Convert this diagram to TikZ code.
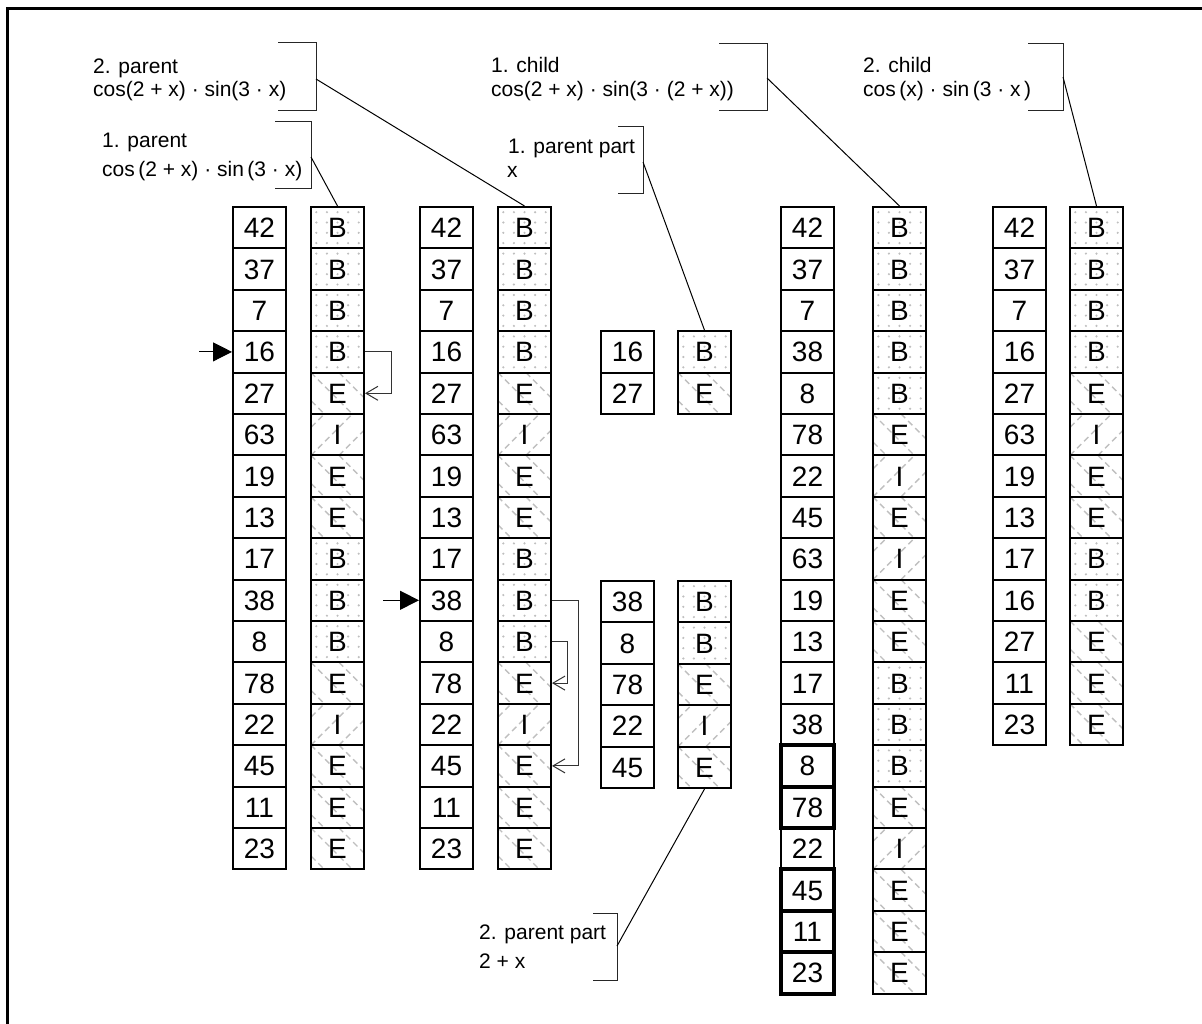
\documentclass[tikz,border=0pt]{standalone}
\usepackage{fontspec}
\setmainfont{Liberation Sans}
\usetikzlibrary{arrows.meta,calc}
\tikzset{
  x=1pt,y=1pt,
  cell/.style={draw=black, line width=2pt, minimum width=53pt, minimum height=41.4pt,
    inner sep=0pt, font=\fontsize{28}{28}\selectfont, text height=20pt, text depth=0pt},
  thickcell/.style={cell, line width=4pt},
  cellB/.style={cell, path picture={
      \foreach \cx in {0,...,4}{\foreach \cy in {0,...,3}{
        \fill[gray!50] ($(path picture bounding box.north west)+(5.3+10.6*\cx,-5.2-10.3*\cy)$) circle (1.2pt);}}}},
  cellE/.style={cell, path picture={
      \foreach \o in {-28,0,28}{
        \draw[gray!50,line width=1.4pt,dash pattern=on 6pt off 4pt]
          ($(path picture bounding box.north west)+(\o,0)$) -- ++(60,-60);}}},
  cellI/.style={cell, path picture={
      \foreach \o in {-28,0,28}{
        \draw[gray!50,line width=1.4pt,dash pattern=on 6pt off 4pt]
          ($(path picture bounding box.south west)+(\o,0)$) -- ++(60,60);}}},
  lbl/.style={anchor=base west, inner sep=0pt, font=\fontsize{21}{21}\selectfont},
  brk/.style={line width=1pt, draw=black!85},
  con/.style={line width=1pt, draw=black},
  farrow/.style={line width=1pt, -{Triangle[length=19pt,width=19pt]}},
  oarrow/.style={line width=1pt, draw=black!80, -{Straight Barb[length=12pt,width=14pt]}},
}
\newcommand\mkNumCol[4]{\foreach \v [count=\i from 0] in {#4}{%
  \node[cell] (#1-\i) at ({#2+26.5},{-(#3+41.4*\i+20.7)}) {\v};}}
\newcommand\mkLetCol[4]{\foreach \v [count=\i from 0] in {#4}{%
  \node[cell\v] (#1-\i) at ({#2+26.5},{-(#3+41.4*\i+20.7)}) {\v};}}
\begin{document}
\begin{tikzpicture}
\useasboundingbox (0,0) rectangle (1202,-1024);
% frame
\draw[line width=3pt] (7.5,-1040) -- (7.5,-8.3) -- (1215,-8.3);

% column 1 (1. parent)
\mkNumCol{c1n}{233}{207}{42,37,7,16,27,63,19,13,17,38,8,78,22,45,11,23}
\mkLetCol{c1l}{311}{207}{B,B,B,B,E,I,E,E,B,B,B,E,I,E,E,E}
% column 2 (2. parent)
\mkNumCol{c2n}{420}{207}{42,37,7,16,27,63,19,13,17,38,8,78,22,45,11,23}
\mkLetCol{c2l}{498}{207}{B,B,B,B,E,I,E,E,B,B,B,E,I,E,E,E}
% column 3 (parent parts)
\mkNumCol{c3n}{601}{331.2}{16,27}
\mkLetCol{c3l}{678}{331.2}{B,E}
\mkNumCol{c3m}{601}{581}{38,8,78,22,45}
\mkLetCol{c3k}{678}{581}{B,B,E,I,E}
% column 4 (1. child)
\foreach \v/\s [count=\i from 0] in {42/cell,37/cell,7/cell,38/cell,8/cell,78/cell,22/cell,45/cell,63/cell,19/cell,13/cell,17/cell,38/cell,8/thickcell,78/thickcell,22/cell,45/thickcell,11/thickcell,23/thickcell}{%
  \node[\s] (c4n-\i) at ({781+26.5},{-(207+41.4*\i+20.7)}) {\v};}
\mkLetCol{c4l}{873}{207}{B,B,B,B,B,E,I,E,I,E,E,B,B,B,E,I,E,E,E}
% column 5 (2. child)
\mkNumCol{c5n}{993}{207}{42,37,7,16,27,63,19,13,17,16,27,11,23}
\mkLetCol{c5l}{1070}{207}{B,B,B,B,E,I,E,E,B,B,E,E,E}

% labels
\node[lbl] (p2a) at (93,-74) {2. parent};
\node[lbl] (p2b) at (93,-97) {cos(2 + x) · sin(3 · x)};
\node[lbl] (p1a) at (102,-148) {1. parent};
\node[lbl] (p1b) at (102,-177) {cos\,(2 + x) · sin\,(3 · x)};
\node[lbl] (ch1a) at (491,-73) {1. child};
\node[lbl] (ch1b) at (491,-97) {cos(2 + x) · sin(3 · (2 + x))};
\node[lbl] (pp1a) at (508,-154) {1. parent part};
\node[lbl] (pp1b) at (507,-178) {x};
\node[lbl] (ch2a) at (863,-73) {2. child};
\node[lbl] (ch2b) at (863,-97) {cos\,(x) · sin\,(3 · x\,)};
\node[lbl] (pp2a) at (479,-939) {2. parent part};
\node[lbl] (pp2b) at (479,-968) {2 + x};

% brackets
\draw[brk] (278,-43) -- (316,-43) -- (316,-111) -- (278,-111);
\draw[brk] (275,-122) -- (311,-122) -- (311,-189) -- (275,-189);
\draw[brk] (719,-44) -- (767,-44) -- (767,-111) -- (719,-111);
\draw[brk] (618,-127) -- (643,-127) -- (643,-194) -- (618,-194);
\draw[brk] (1028,-44) -- (1063,-44) -- (1063,-111) -- (1028,-111);
\draw[brk] (593,-913) -- (617,-913) -- (617,-980) -- (593,-980);
\coordinate (b1) at (316,-79);
\coordinate (b2) at (311,-157);
\coordinate (b3) at (767,-78);
\coordinate (b4) at (643,-162);
\coordinate (b5) at (1063,-77);
\coordinate (b6) at (617,-946);
\draw[con] (b1) -- (c2l-0.north);
\draw[con] (b2) -- (c1l-0.north);
\draw[con] (b3) -- (c4l-0.north);
\draw[con] (b4) -- (c3l-0.north);
\draw[con] (b5) -- (c5l-0.north);
\draw[con] (b6) -- (c3k-4.south);

% crossover point arrows
\coordinate (a1) at ($(c1n-3.west)+(-33,0)$);
\coordinate (a2) at ($(c2n-9.west)+(-36,0)$);
\draw[farrow] (a1) -- (c1n-3.west);
\draw[farrow] (a2) -- (c2n-9.west);

% subtree extent arrows
\draw[oarrow] (c1l-3.east) -- ++(26,0) |- (c1l-4.east);
\draw[oarrow] (c2l-9.east) -- ++(26,0) |- (c2l-13.east);
\draw[oarrow] (c2l-10.east) -- ++(15,0) |- (c2l-11.east);
\end{tikzpicture}
\end{document}
